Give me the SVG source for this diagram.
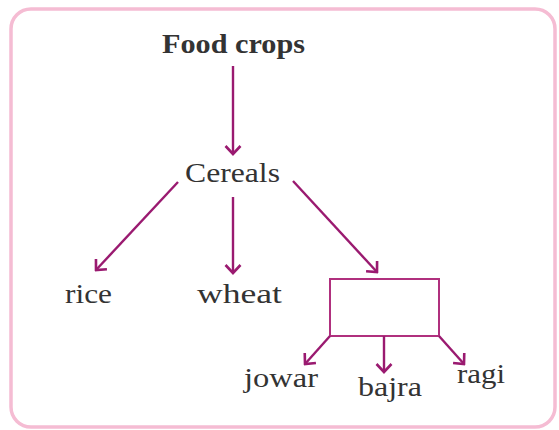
<svg xmlns="http://www.w3.org/2000/svg" width="559" height="430" viewBox="0 0 559 430">
<defs>
<style>
.t{font-family:"Liberation Serif","DejaVu Serif",serif;font-size:28px;fill:#333;text-anchor:middle}
.b{font-weight:bold;font-size:27px}
.c{stroke:#9a1a70;stroke-width:2.4;fill:none}
</style>
<marker id="ah" viewBox="0 0 12 18" refX="10" refY="9" markerWidth="12" markerHeight="18" markerUnits="userSpaceOnUse" orient="auto">
<path d="M2,1.5 L10,9 L2,16.5" fill="none" stroke="#9a1a70" stroke-width="2.6" stroke-linejoin="miter"/>
</marker>
</defs>
<rect x="0" y="0" width="559" height="430" fill="#fff"/>
<rect x="11" y="9" width="544" height="418" rx="20" fill="#fff" stroke="#f5bcd3" stroke-width="3.5"/>
<g id="food"><text class="t b" x="233.5" y="53" textLength="143" lengthAdjust="spacingAndGlyphs">Food crops</text></g>
<g id="cereals"><text class="t" x="232.5" y="182" textLength="95" lengthAdjust="spacingAndGlyphs">Cereals</text></g>
<g id="rice"><text class="t" x="88.5" y="303" textLength="47" lengthAdjust="spacingAndGlyphs">rice</text></g>
<g id="wheat"><text class="t" x="239.5" y="303" textLength="85" lengthAdjust="spacingAndGlyphs">wheat</text></g>
<g id="box"><rect x="330" y="279" width="109" height="57" fill="none" stroke="#b0307e" stroke-width="2"/></g>
<g id="jowar"><text class="t" x="281" y="387" textLength="74" lengthAdjust="spacingAndGlyphs">jowar</text></g>
<g id="bajra"><text class="t" x="390" y="396" textLength="64" lengthAdjust="spacingAndGlyphs">bajra</text></g>
<g id="ragi"><text class="t" x="481" y="383" textLength="48" lengthAdjust="spacingAndGlyphs">ragi</text></g>
<g id="connectors" class="c">
<line x1="233" y1="66" x2="233" y2="154" marker-end="url(#ah)"/>
<line x1="178" y1="182" x2="96" y2="270" marker-end="url(#ah)"/>
<line x1="233" y1="197" x2="233" y2="273" marker-end="url(#ah)"/>
<line x1="293" y1="181" x2="377" y2="272" marker-end="url(#ah)"/>
<line x1="330" y1="336" x2="305" y2="364" marker-end="url(#ah)"/>
<line x1="384" y1="336" x2="384" y2="372" marker-end="url(#ah)"/>
<line x1="439" y1="336" x2="464" y2="364" marker-end="url(#ah)"/>
</g>
</svg>
